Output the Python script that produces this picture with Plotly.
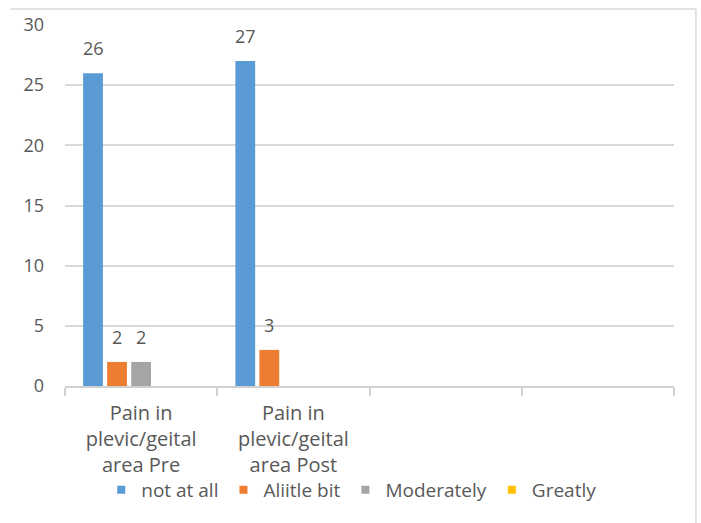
import plotly.graph_objects as go

# ---- data ----
categories = ["Pain in<br>plevic/geital<br>area Pre", "Pain in<br>plevic/geital<br>area Post", "", ""]
series_names = ["not at all", "Aliitle bit", "Moderately", "Greatly"]
not_at_all = [26, 27, None, None]
a_little_bit = [2, 3, None, None]
moderately = [2, None, None, None]
greatly = [None, None, None, None]
y_ticks = [0, 5, 10, 15, 20, 25, 30]

colors = ["#5B9BD5", "#ED7D31", "#A5A5A5", "#FFC000"]
values = [not_at_all, a_little_bit, moderately, greatly]
text_color = "#595959"
font_family = "Open Sans, Noto Sans, sans-serif"

x_pos = list(range(len(categories)))
bar_w = 0.13
step = 0.158
first_offset = -0.381

fig = go.Figure()
annotations = []
for i, (name, vals, col) in enumerate(zip(series_names, values, colors)):
    off = first_offset + i * step
    fig.add_trace(go.Bar(
        x=x_pos, y=vals, name=name, showlegend=False,
        marker=dict(color=col, line=dict(width=0)),
        offset=off, width=bar_w,
    ))
    for xp, v in zip(x_pos, vals):
        if v is not None:
            annotations.append(dict(
                x=xp + off + bar_w / 2, y=v, xref="x", yref="y",
                text=str(v), showarrow=False, yanchor="middle", yshift=25,
                font=dict(size=18, color=text_color, family=font_family),
            ))

# legend entries (small square keys, as in the original)
for name, col in zip(series_names, colors):
    fig.add_trace(go.Scatter(
        x=[None], y=[None], mode="markers", name=name,
        marker=dict(symbol="square", size=8, color=col),
        showlegend=True,
    ))

fig.update_layout(
    width=701, height=523,
    margin=dict(l=65, r=27, t=22, b=137),
    paper_bgcolor="white", plot_bgcolor="white",
    barmode="overlay",
    font=dict(family=font_family, color=text_color, size=18),
    showlegend=True,
    legend=dict(orientation="h", x=0.47, xanchor="center", y=-0.288, yanchor="middle",
                font=dict(size=19, color=text_color), traceorder="normal",
                itemclick=False, itemwidth=30, bgcolor="rgba(0,0,0,0)"),
    annotations=annotations,
    shapes=[
        dict(type="line", xref="paper", yref="paper", x0=-0.09, x1=1.036, y0=1.044, y1=1.044,
             line=dict(color="#D9D9D9", width=1.5)),
        dict(type="line", xref="paper", yref="paper", x0=1.036, x1=1.036, y0=1.044, y1=-0.4,
             line=dict(color="#D9D9D9", width=1.5)),
    ],
)

fig.update_xaxes(
    range=[-0.5, len(categories) - 0.5],
    tickmode="array", tickvals=x_pos, ticktext=categories,
    ticks="", showgrid=False, zeroline=False,
    showline=True, linecolor="#D0D0D0", linewidth=1.5,
    tickfont=dict(size=20, color=text_color),
    ticklabelstandoff=8,
    minor=dict(tickmode="array", tickvals=[p - 0.5 for p in x_pos] + [len(categories) - 0.5],
               ticks="outside", ticklen=8, tickcolor="#D0D0D0", tickwidth=1.5, showgrid=False),
    fixedrange=True,
)
fig.update_yaxes(
    range=[0, 30], tickmode="array", tickvals=y_ticks,
    showgrid=True, gridcolor="#D9D9D9", gridwidth=1.5,
    zeroline=False, showline=False, ticks="",
    tickfont=dict(size=18, color=text_color),
    ticklabelstandoff=20,
    fixedrange=True,
)

fig.write_html("out.html")
